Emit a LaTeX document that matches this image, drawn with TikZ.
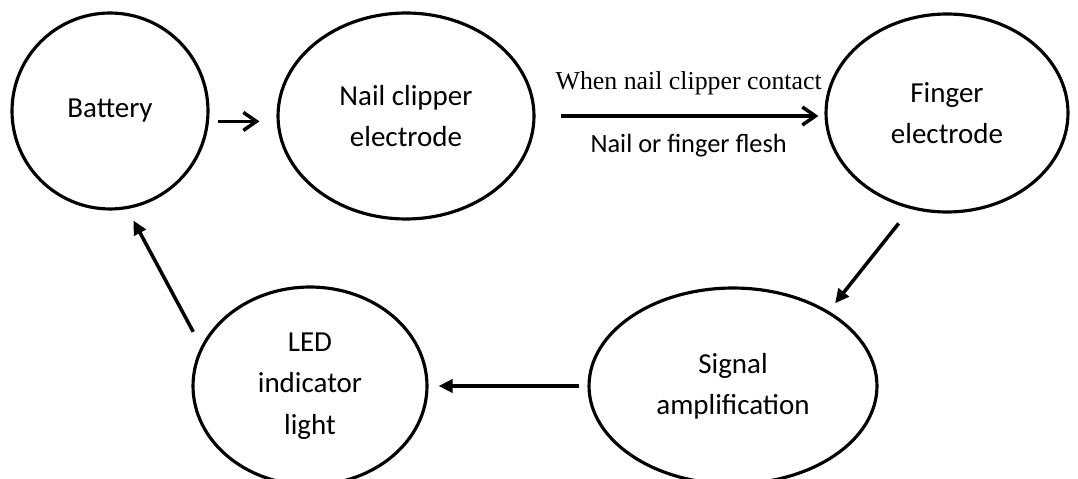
\documentclass[tikz,border=0pt]{standalone}
\usepackage{fontspec}
\setmainfont{Carlito}
\newfontfamily\serifcap{Liberation Serif}
\usetikzlibrary{arrows.meta,positioning,shapes.geometric}
\tikzset{
  stage/.style={draw, ellipse, line width=1.8pt, inner sep=0pt, align=center, font=\fontsize{16.5}{23.5}\selectfont},
  flowbarb/.style={-{Straight Barb[length=2.6mm, width=3.6mm]}, line width=2pt},
  flowtri/.style={-{Triangle[length=2.8mm, width=2.6mm]}, line width=2pt},
  condtop/.style={font=\serifcap\fontsize{14.7}{17}\selectfont, inner sep=0pt},
  condbot/.style={font=\fontsize{15}{18}\selectfont, inner sep=0pt}
}

\begin{document}
\begin{tikzpicture}[x=0.02cm, y=-0.02cm]
  \useasboundingbox (0,0) rectangle (1078,479);
  \node[stage, minimum width=3.92cm, minimum height=3.92cm] (bat) at (110,111) {Battery};
  \node[stage, minimum width=5.12cm, minimum height=4.12cm] (nail) at (406,116) {Nail clipper\\electrode};
  \node[stage, minimum width=4.84cm, minimum height=3.96cm] (fin) at (947,113) {Finger\\electrode};
  \node[stage, minimum width=5.76cm, minimum height=3.92cm] (sig) at (733,386) {Signal\\amplification};
  \node[stage, minimum width=4.68cm, minimum height=3.96cm] (led) at (310,386) {LED\\indicator\\light};
  \draw[flowbarb, shorten <=1.8mm, shorten >=3.4mm] (bat.-6) -- (bat.-6 -| nail.west);
  \draw[flowbarb, shorten <=5mm, shorten >=1.2mm] (nail.east) -- (nail.east -| fin.west)
    node[condtop, pos=.53, yshift=6.6mm] (when) {When nail clipper contact}
    node[condbot, pos=.53, yshift=-6mm] (flesh) {Nail or finger flesh};
  \draw[flowtri, shorten <=3.7mm, shorten >=2mm] (fin.249) -- (sig.38);
  \draw[flowtri, shorten <=1.6mm, shorten >=2mm] (sig.west) -- (led.east);
  \draw[flowtri, shorten <=3.3mm, shorten >=2.6mm] (led.160) -- (bat.280);
\end{tikzpicture}
\end{document}
